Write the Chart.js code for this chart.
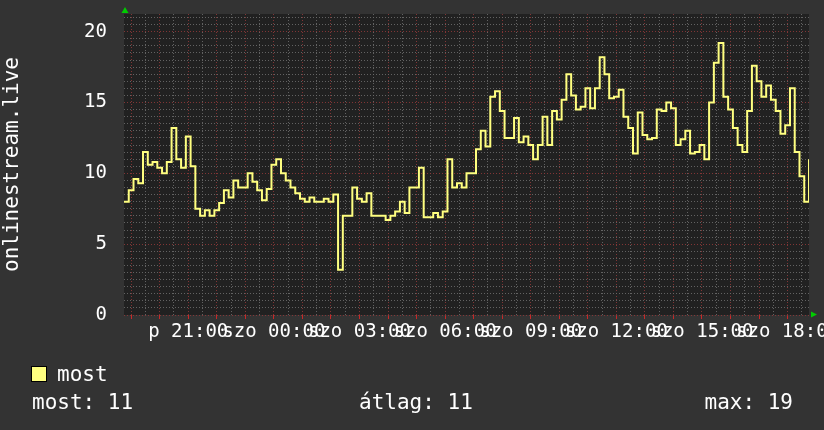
<!DOCTYPE html>
<html>
<head>
<meta charset="utf-8">
<script src="https://cdn.jsdelivr.net/npm/chart.js@4.4.1/dist/chart.umd.min.js"></script>
<style>
  html, body { margin: 0; padding: 0; background: #333333; }
  canvas { display: block; }
</style>
</head>
<body>
<canvas id="chart" width="824" height="430"></canvas>
<script>
// Data: 10 perces mintak, p 18:45 -> szo 18:45 (ora, pentek 00:00-tol)
const startHour = 18.75;
const stepHours = 1 / 6;
const values = [
  8.0, 8.8, 9.6, 9.3, 11.5, 10.6, 10.8, 10.4, 10.0, 10.8,
  13.2, 11.0, 10.4, 12.6, 10.5, 7.5, 7.0, 7.4, 7.0, 7.4,
  7.9, 8.8, 8.3, 9.5, 9.0, 9.0, 10.0, 9.4, 8.8, 8.1,
  8.9, 10.6, 11.0, 10.0, 9.5, 9.0, 8.6, 8.2, 8.0, 8.3,
  8.0, 8.0, 8.2, 8.0, 8.5, 3.2, 7.0, 7.0, 9.0, 8.2,
  8.0, 8.6, 7.0, 7.0, 7.0, 6.7, 7.0, 7.3, 8.0, 7.2,
  9.0, 9.0, 10.4, 6.9, 6.9, 7.2, 6.9, 7.3, 11.0, 9.0,
  9.3, 9.0, 10.0, 10.0, 11.7, 13.0, 11.9, 15.4, 15.8, 14.4,
  12.5, 12.5, 13.9, 12.2, 12.6, 12.0, 11.0, 12.0, 14.0, 12.0,
  14.4, 13.8, 15.2, 17.0, 15.5, 14.5, 14.7, 16.0, 14.6, 16.0,
  18.2, 17.0, 15.3, 15.4, 15.9, 14.0, 13.2, 11.4, 14.3, 12.7,
  12.4, 12.5, 14.5, 14.4, 15.0, 14.6, 12.0, 12.4, 13.0, 11.4,
  11.5, 12.0, 11.0, 15.0, 17.8, 19.2, 15.4, 14.5, 13.2, 12.0,
  11.5, 14.4, 17.6, 16.5, 15.4, 16.2, 15.2, 14.4, 12.8, 13.4,
  16.0, 11.5, 9.8, 8.0, 11.0
];
const tickHours = [21, 24, 27, 30, 33, 36, 39, 42];
const tickLabels = ["p 21:00", "szo 00:00", "szo 03:00", "szo 06:00", "szo 09:00", "szo 12:00", "szo 15:00", "szo 18:00"];
const yLabels = [0, 5, 10, 15, 20];
const axisMin = 18.75;
const axisMax = 42.75;
const yMax = 21.25;
const seriesLabel = "most";
const yTitle = "onlinestream.live";
const statNames = ["most", "átlag", "max"];

// Colors
const lineColor = "rgb(255,255,128)";
const gridMinor = "rgba(105,105,105,0.9)";
const gridMajor = "rgba(140,55,55,0.9)";
const mono = "'DejaVu Sans Mono', monospace";

const points = values.map((v, i) => ({ x: startHour + i * stepHours, y: v }));

const last = values[values.length - 1];
const avg = values.reduce((a, b) => a + b, 0) / values.length;
const max = Math.max(...values);
const stats = [last, avg, max].map(v => Math.round(v));

const rrdLook = {
  id: "rrdLook",
  beforeDraw(chart) {
    const { ctx, chartArea: a } = chart;
    ctx.save();
    ctx.fillStyle = "#333333";
    ctx.fillRect(0, 0, chart.width, chart.height);
    ctx.fillStyle = "#212121";
    ctx.fillRect(a.left, a.top, a.right - a.left, a.bottom - a.top);
    ctx.restore();
  },
  afterDraw(chart) {
    const { ctx, chartArea: a } = chart;
    ctx.save();
    // arrows
    ctx.fillStyle = "#00cc00";
    ctx.beginPath();
    ctx.moveTo(a.left + 1, a.top - 7);
    ctx.lineTo(a.left - 2.5, a.top - 1);
    ctx.lineTo(a.left + 4.5, a.top - 1);
    ctx.fill();
    ctx.beginPath();
    ctx.moveTo(a.right + 8, a.bottom - 0.5);
    ctx.lineTo(a.right + 2, a.bottom - 3.5);
    ctx.lineTo(a.right + 2, a.bottom + 2.5);
    ctx.fill();

    // legend
    ctx.fillStyle = lineColor;
    ctx.fillRect(31, 366, 16, 16);
    ctx.strokeStyle = "#000";
    ctx.lineWidth = 1;
    ctx.strokeRect(31.5, 366.5, 15, 15);
    ctx.fillStyle = "#ffffff";
    ctx.font = "21px " + mono;
    ctx.textBaseline = "alphabetic";
    ctx.textAlign = "left";
    ctx.fillText(seriesLabel, 57, 381);

    // stats
    ctx.fillText(statNames[0] + ": " + stats[0], 32, 409);
    ctx.fillText(statNames[1] + ": " + stats[1], 359, 409);
    ctx.textAlign = "right";
    ctx.fillText(statNames[2] + ": " + stats[2], 793, 409);
    ctx.restore();
  }
};

new Chart(document.getElementById("chart"), {
  type: "line",
  data: {
    datasets: [{
      label: seriesLabel,
      data: points,
      borderColor: lineColor,
      borderWidth: 2,
      pointRadius: 0,
      stepped: true,
      fill: false
    }]
  },
  options: {
    responsive: false,
    animation: false,
    devicePixelRatio: 1,
    layout: { padding: { top: 14, right: 15, bottom: 0, left: 0 } },
    plugins: { legend: { display: false }, tooltip: { enabled: false } },
    scales: {
      x: {
        type: "linear",
        min: axisMin,
        max: axisMax,
        afterBuildTicks: s => {
          const t = [];
          for (let h = 19; h < axisMax; h += 0.5) t.push({ value: h });
          s.ticks = t;
        },
        afterFit: s => {
          s.height = 115;
          s.paddingLeft = 0;
          s.paddingRight = 0;
        },
        ticks: {
          autoSkip: false,
          maxRotation: 0,
          minRotation: 0,
          padding: 2,
          color: "#ffffff",
          font: { family: mono, size: 19 },
          callback: v => {
            const k = tickHours.indexOf(v);
            return k >= 0 ? tickLabels[k] : "";
          }
        },
        grid: {
          color: c => Number.isInteger(c.tick.value) ? gridMajor : gridMinor,
          tickColor: c => Number.isInteger(c.tick.value) ? "rgb(200,40,40)" : "rgba(0,0,0,0)",
          tickLength: 4,
          lineWidth: 1
        },
        border: { display: false, dash: [1, 2] }
      },
      y: {
        type: "linear",
        min: 0,
        max: yMax,
        afterBuildTicks: s => {
          const t = [];
          for (let v = 0; v <= 21; v += 0.5) t.push({ value: v });
          s.ticks = t;
        },
        afterFit: s => {
          s.width = 124;
          s.paddingTop = 0;
          s.paddingBottom = 0;
        },
        ticks: {
          autoSkip: false,
          padding: 17,
          color: "#ffffff",
          font: { family: mono, size: 19 },
          callback: v => yLabels.includes(v) ? String(v) : ""
        },
        grid: {
          color: c => c.tick.value % 5 === 0 ? gridMajor : gridMinor,
          drawTicks: false,
          lineWidth: 1
        },
        border: { display: false, dash: [1, 2] },
        title: {
          display: true,
          text: yTitle,
          color: "#ffffff",
          font: { family: mono, size: 21 },
          padding: 0
        }
      }
    }
  },
  plugins: [rrdLook]
});
</script>
</body>
</html>
